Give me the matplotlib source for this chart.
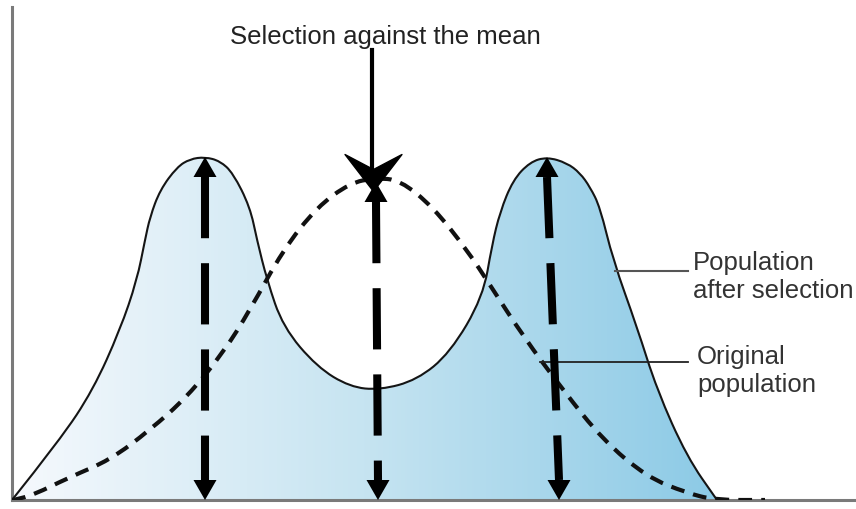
import numpy as np
import matplotlib
matplotlib.use("Agg")
import matplotlib.pyplot as plt
from matplotlib.path import Path
from matplotlib.patches import PathPatch
from matplotlib.colors import LinearSegmentedColormap

plt.rcParams['font.family'] = ['Liberation Sans', 'DejaVu Sans']

# trait value (x) and frequency (y) (units ~ pixels)
after_x = [0, 48, 81, 108, 125, 133, 138, 148, 165, 178, 193, 208, 221, 238, 245, 255,
           271, 305, 338, 368, 405, 438, 471, 480, 488, 501, 518, 535, 555, 568, 578,
           588, 601, 625, 645, 675, 705]
after_y = [0, 60, 110, 170, 220, 260, 283, 310, 333, 341, 343, 339, 327, 293, 260, 220,
           173, 133, 113, 110, 120, 147, 203, 255, 288, 320, 338, 343, 337, 327, 313,
           293, 240, 173, 110, 43, 0]

orig_x = [0, 15, 58, 98, 138, 175, 211, 238, 271, 305, 338, 363, 388, 421, 455, 478,
          511, 551, 591, 635, 675, 703, 753]
orig_y = [0, 2, 23, 40, 70, 103, 147, 190, 250, 293, 317, 322, 320, 293, 250, 215,
          164, 110, 60, 23, 7, 0, 0]

# double-headed dashed arrows: (x at top, x at bottom, top tip height)
arrow_x_top = [193, 364, 535]
arrow_x_bot = [193, 366, 547]
arrow_top = [343, 318, 343]

title = "Selection against the mean"
label_after = "Population\nafter selection"
label_orig = "Original\npopulation"


def smooth_path(xs, ys, close=False):
    # quadratic segments through midpoints, a drawing style only
    pts = np.column_stack([xs, ys]).astype(float)
    verts = [pts[0]]
    codes = [Path.MOVETO]
    for i in range(1, len(pts) - 1):
        verts += [pts[i], (pts[i] + pts[i + 1]) / 2]
        codes += [Path.CURVE3, Path.CURVE3]
    verts.append(pts[-1])
    codes.append(Path.LINETO)
    if close:
        verts.append(pts[0])
        codes.append(Path.CLOSEPOLY)
    return Path(verts, codes)


fig = plt.figure(figsize=(8.56, 5.09), dpi=100)
ax = fig.add_axes([12 / 856, 9 / 509, 844 / 856, 493 / 509])
ax.set_xlim(0, 844)
ax.set_ylim(0, 493)
ax.set_xticks([])
ax.set_yticks([])
for s in ['top', 'right']:
    ax.spines[s].set_visible(False)
for s in ['left', 'bottom']:
    ax.spines[s].set_color('#7a7a7a')
    ax.spines[s].set_linewidth(2.2)

# gradient fill under the population after selection
cmap = LinearSegmentedColormap.from_list('pop', ['#f6f9fd', '#c6e4f1', '#8ccae6'])
grad = np.linspace(0, 1, 256).reshape(1, -1)
im = ax.imshow(grad, cmap=cmap, extent=[0, 705, 0, 345], aspect='auto', zorder=1)
fill = PathPatch(smooth_path(after_x, after_y, close=True), facecolor='none',
                 edgecolor='none', transform=ax.transData)
ax.add_patch(fill)
im.set_clip_path(fill)

ax.add_patch(PathPatch(smooth_path(after_x, after_y), facecolor='none',
                       edgecolor='#151515', lw=1.5, zorder=3))
ax.add_patch(PathPatch(smooth_path(orig_x, orig_y), facecolor='none',
                       edgecolor='#111111', lw=3.0, linestyle=(0, (3.3, 2.2)),
                       capstyle='butt', zorder=3))

# vertical dashed arrows
hl, hw = 20, 23
for xt, xb, top in zip(arrow_x_top, arrow_x_bot, arrow_top):
    ax.plot([xt, xb], [top - hl, hl], color='black', lw=5.8,
            linestyle=(0, (7.6, 3.1)), solid_capstyle='butt', zorder=4)
    ax.arrow(xt, top - hl, 0, hl, width=0.01, head_width=hw, head_length=hl,
             length_includes_head=True, color='black', lw=0, zorder=5)
    ax.arrow(xb, hl, 0, -hl, width=0.01, head_width=hw, head_length=hl,
             length_includes_head=True, color='black', lw=0, zorder=5)

# selection arrow from the title
ax.plot([360, 360], [450, 330], color='black', lw=3, zorder=5)
stealth = Path([(0, -19), (-28.5, 18), (0, 3), (28.5, 18), (0, -19)],
               [Path.MOVETO, Path.LINETO, Path.LINETO, Path.LINETO, Path.CLOSEPOLY])
ax.plot([361], [328], marker=stealth, markersize=41, color='black', zorder=6,
        linestyle='none')

ax.text(373, 463, title, ha='center', va='center', fontsize=18.5, color='#222222')

# leader lines and labels
ax.plot([603, 676], [229, 229], color='#555555', lw=1.5, zorder=3)
ax.plot([528, 676], [138, 138], color='#222222', lw=1.3, zorder=3)
ax.text(681, 223, label_after, ha='left', va='center', fontsize=18.5,
        color='#333333', linespacing=1.2)
ax.text(685, 129, label_orig, ha='left', va='center', fontsize=18.5,
        color='#333333', linespacing=1.2)

fig.savefig('out.png', dpi=100)
